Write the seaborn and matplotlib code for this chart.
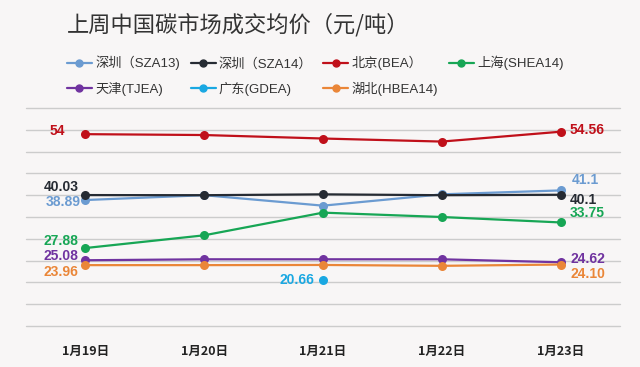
import pandas as pd
import numpy as np
import seaborn as sns
import matplotlib.pyplot as plt
from matplotlib.lines import Line2D

days = ['1月19日', '1月20日', '1月21日', '1月22日', '1月23日']
names = ['深圳（SZA13)', '深圳（SZA14）', '北京(BEA）', '上海(SHEA14)',
         '天津(TJEA)', '广东(GDEA)', '湖北(HBEA14)']
sza13 = [38.89, 40.0, 37.6, 40.2, 41.1]
sza14 = [40.03, 40.0, 40.2, 40.0, 40.1]
bea = [54.0, 53.8, 53.0, 52.3, 54.56]
shea = [27.88, 30.8, 36.0, 35.0, 33.75]
tjea = [25.08, 25.3, 25.3, 25.3, 24.62]
gdea = [np.nan, np.nan, 20.66, np.nan, np.nan]
hbea = [23.96, 23.96, 24.0, 23.8, 24.10]
colors = ['#6b9bd1', '#262b33', '#c0101a', '#17a655', '#7033a0', '#1aa8e2', '#ea8638']

series = [sza13, sza14, bea, shea, tjea, gdea, hbea]

sns.set_style('white')
plt.rcParams['font.family'] = ['Liberation Sans', 'Noto Sans CJK SC', 'DejaVu Sans']
bg = '#f8f6f6'

fig = plt.figure(figsize=(6.4, 3.67), dpi=100, facecolor=bg)
ax = fig.add_axes([26/640, 1-326/367, 594/640, 218/367], facecolor=bg)

x = np.arange(len(days))
for vals, c, n in zip(series, colors, names):
    df = pd.DataFrame({'x': x, 'y': vals}).dropna()
    sns.lineplot(data=df, x='x', y='y', color=c, marker='o', markersize=6.5,
                 markeredgewidth=0, linewidth=1.6, ax=ax, label=n, legend=False)

ax.set_xlim(-0.5, 4.5)
ax.set_ylim(10, 60)
ax.set_yticks(np.arange(10, 61, 5))
ax.set_yticklabels([])
ax.grid(axis='y', color='#cccccc', linewidth=1)
for gl in ax.get_ygridlines():
    gl.set_clip_on(False)
ax.set_xticks(x)
ax.set_xticklabels(days, fontsize=9, fontweight='bold', color='#222222',
                   family=['Noto Sans CJK SC', 'DejaVu Sans'])
ax.tick_params(length=0, axis='x', pad=14)
ax.tick_params(length=0, axis='y')
ax.set_xlabel('')
ax.set_ylabel('')
for s in ax.spines.values():
    s.set_visible(False)

# value labels
lab = dict(fontsize=10, fontweight='bold')
ax.text(-0.17, 54.7, '54', color=colors[2], ha='right', va='center', **lab)
ax.text(-0.06, 41.95, '40.03', color=colors[1], ha='right', va='center', **lab)
ax.text(-0.04, 38.5, '38.89', color=colors[0], ha='right', va='center', **lab)
ax.text(-0.06, 29.56, '27.88', color=colors[3], ha='right', va='center', **lab)
ax.text(-0.06, 26.06, '25.08', color=colors[4], ha='right', va='center', **lab)
ax.text(-0.06, 22.45, '23.96', color=colors[6], ha='right', va='center', **lab)
ax.text(1.924, 20.55, '20.66', color=colors[5], ha='right', va='center', **lab)
ax.text(4.076, 54.95, '54.56', color=colors[2], ha='left', va='center', **lab)
ax.text(4.09, 43.5, '41.1', color=colors[0], ha='left', va='center', **lab)
ax.text(4.08, 38.9, '40.1', color=colors[1], ha='left', va='center', **lab)
ax.text(4.08, 35.9, '33.75', color=colors[3], ha='left', va='center', **lab)
ax.text(4.08, 25.3, '24.62', color=colors[4], ha='left', va='center', **lab)
ax.text(4.085, 21.9, '24.10', color=colors[6], ha='left', va='center', **lab)

fig.text(67/640, 1-25/367, '上周中国碳市场成交均价（元/吨）', fontsize=16,
         color='#333333', va='center', ha='left',
         family=['Noto Sans CJK SC', 'DejaVu Sans'])

handles = [Line2D([], [], color=c, marker='o', markersize=5, linewidth=1.6)
           for c in colors]
order = [0, 4, 1, 5, 2, 6, 3]
leg = fig.legend([handles[i] for i in order], [names[i] for i in order],
                 ncol=4, loc='upper left', bbox_to_anchor=(55/640, 1-44/367),
                 frameon=False, handlelength=1.9, handletextpad=0.25,
                 columnspacing=0.8, labelspacing=0.86,
                 prop={'family': ['Liberation Sans', 'Noto Sans CJK SC'], 'size': 9.5})
for t in leg.get_texts():
    t.set_color('#333333')

fig.savefig('out.png', dpi=100, facecolor=bg)
